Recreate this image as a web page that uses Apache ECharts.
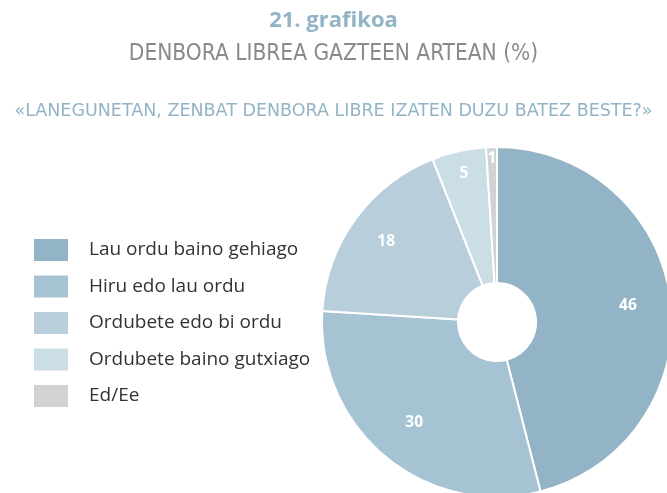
<!DOCTYPE html>
<html><head><meta charset="utf-8">
<script src="https://cdn.jsdelivr.net/npm/echarts@6/dist/echarts.min.js"></script>
<style>html,body{margin:0;padding:0;background:#fff}#c{width:667px;height:493px}</style>
</head><body><div id="c"></div>
<script>
const categories = ['Lau ordu baino gehiago','Hiru edo lau ordu','Ordubete edo bi ordu','Ordubete baino gutxiago','Ed/Ee'];
const values = [46, 30, 18, 5, 1];
const colors = ['#93b4c6','#a6c3d3','#b8cfdb','#cbdde5','#d1d2d4'];
const labelRadii = [258, 254, 268, 298, 322];

const center = [497, 322];
const data = categories.map((n,i)=>({name:n, value:values[i], itemStyle:{color:colors[i]}}));

const series = [{
  type:'pie', center:center, radius:[39,175], startAngle:90, clockwise:true,
  avoidLabelOverlap:false, silent:true, animation:false,
  itemStyle:{borderColor:'#fff', borderWidth:2},
  label:{show:false}, labelLine:{show:false},
  data:data
}];
values.forEach((v,idx)=>{
  series.push({
    type:'pie', center:center, radius:[0,labelRadii[idx]], startAngle:90, clockwise:true,
    avoidLabelOverlap:false, silent:true, animation:false, legendHoverLink:false,
    itemStyle:{color:'transparent', borderWidth:0},
    labelLine:{show:false},
    label:{show:true, position:'inside', color:'#fff', fontFamily:'Open Sans', fontWeight:'bold', fontSize:15.5,
      formatter:p=>p.dataIndex===idx?String(p.value):''},
    data:categories.map((n,i)=>({name:n+' ', value:values[i]}))
  });
});

const chart = echarts.init(document.getElementById('c'), null, {renderer:'canvas'});
chart.setOption({
  animation:false,
  color:colors,
  title:[
    {text:'21. grafikoa', left:'center', top:5, textStyle:{color:'#93b4c6', fontFamily:'Open Sans', fontWeight:'bold', fontSize:22}},
    {text:'DENBORA LIBREA GAZTEEN ARTEAN (%)', left:'center', top:38, textStyle:{color:'#8a8a8a', fontFamily:'DejaVu Sans Condensed', fontWeight:'normal', fontSize:22.5}},
    {text:'«LANEGUNETAN, ZENBAT DENBORA LIBRE IZATEN DUZU BATEZ BESTE?»', left:'center', top:97, textStyle:{color:'#93b4c6', fontFamily:'DejaVu Sans', fontWeight:'normal', fontSize:17.5}}
  ],
  legend:{
    orient:'vertical', left:27, top:232, itemWidth:36, itemHeight:24, itemGap:10.5,
    icon:'rect', selectedMode:false,
    data:categories,
    textStyle:{color:'#333', fontFamily:'Open Sans', fontSize:19, lineHeight:24, padding:[0,0,0,15]}
  },
  series:series
});
</script></body></html>
